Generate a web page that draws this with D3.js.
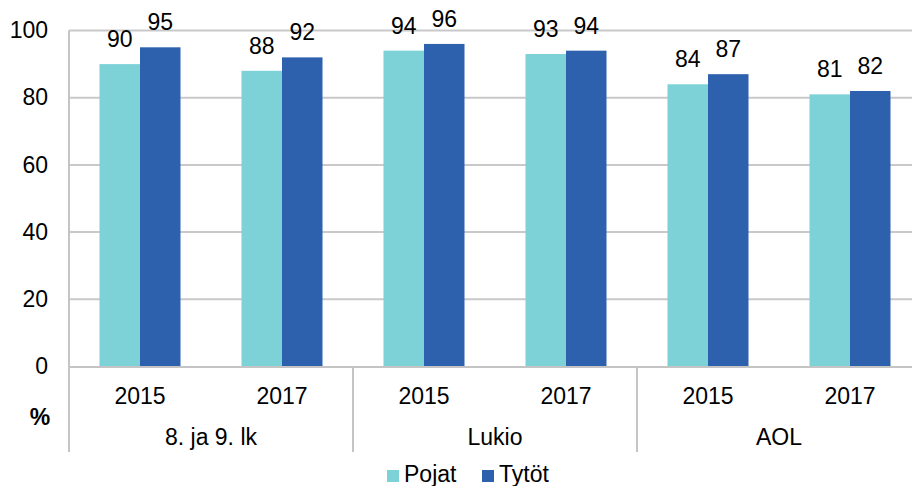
<!DOCTYPE html>
<html><head><meta charset="utf-8">
<script src="https://cdn.jsdelivr.net/npm/d3@7"></script>
<style>
body{margin:0;background:#fff;}
svg{display:block;font-family:"Liberation Sans",Arial,sans-serif;}
</style></head>
<body><svg id="c" width="912" height="486"></svg>
<script>
const groups = ["8. ja 9. lk", "Lukio", "AOL"];
const years = ["2015", "2017"];
const seriesNames = ["Pojat", "Tytöt"];
const pojat = [90, 88, 94, 93, 84, 81];
const tytot = [95, 92, 96, 94, 87, 82];
const yTicks = [0, 20, 40, 60, 80, 100];
const colors = ["#7dd2d8", "#2e61ad"];

const FS = 23;
const svg = d3.select("#c");
const L = 69, R = 921, T = 30.5, B = 366.5;
const cats = [];
groups.forEach(g => years.forEach(y => cats.push(g + "|" + y)));

const y = d3.scaleLinear().domain([0, 100]).range([B, T]);
const x = d3.scaleBand().domain(cats).range([L, R]).paddingInner(0).paddingOuter(0);
const xg = d3.scaleBand().domain(groups).range([L, R]);
const inner = d3.scaleBand().domain(seriesNames).range([0, 81]);
const barOffset = (x.bandwidth() - 81) / 2;

// gridlines
svg.append("g").selectAll("line").data(yTicks.filter(d => d > 0)).join("line")
  .attr("x1", L).attr("x2", R).attr("y1", d => y(d)).attr("y2", d => y(d))
  .attr("stroke", "#c9c9c9").attr("stroke-width", 2);

// y tick labels
const yAxis = d3.axisLeft(y).tickValues(yTicks).tickSize(0).tickPadding(21);
const ya = svg.append("g").attr("transform", `translate(${L},0)`).call(yAxis);
ya.select(".domain").remove();
ya.selectAll("text").attr("font-size", FS).attr("fill", "#000")
  .attr("font-family", "Liberation Sans, Arial, sans-serif").attr("dy", "0.31em");

// bars
const rows = cats.map((c, i) => ({c, vals: [pojat[i], tytot[i]]}));
const bg = svg.append("g").selectAll("g").data(rows).join("g")
  .attr("transform", d => `translate(${x(d.c) + barOffset},0)`);
bg.selectAll("rect").data(d => d.vals.map((v, j) => ({v, s: seriesNames[j], j}))).join("rect")
  .attr("x", d => inner(d.s)).attr("width", inner.bandwidth())
  .attr("y", d => y(d.v)).attr("height", d => B - y(d.v))
  .attr("fill", d => colors[d.j]);
bg.selectAll("text").data(d => d.vals.map((v, j) => ({v, s: seriesNames[j]}))).join("text")
  .attr("x", d => inner(d.s) + inner.bandwidth() / 2)
  .attr("y", d => y(d.v) - 17)
  .attr("text-anchor", "middle").attr("font-size", FS).attr("fill", "#000")
  .text(d => d.v);

// axes lines
svg.append("line").attr("x1", L).attr("x2", L).attr("y1", T).attr("y2", 452)
  .attr("stroke", "#c4c4c4").attr("stroke-width", 2);
svg.append("line").attr("x1", L).attr("x2", R).attr("y1", B + 0.5).attr("y2", B + 0.5)
  .attr("stroke", "#c4c4c4").attr("stroke-width", 2);
svg.append("g").selectAll("line").data(groups.slice(1)).join("line")
  .attr("x1", d => xg(d)).attr("x2", d => xg(d)).attr("y1", B).attr("y2", 452)
  .attr("stroke", "#c4c4c4").attr("stroke-width", 2);

// year labels
const xa = d3.axisBottom(x).tickSize(0).tickFormat(d => d.split("|")[1]);
const xaG = svg.append("g").attr("transform", `translate(0,${B})`).call(xa);
xaG.select(".domain").remove();
xaG.selectAll("text").attr("font-size", FS).attr("fill", "#000")
  .attr("font-family", "Liberation Sans, Arial, sans-serif")
  .attr("y", 0).attr("dy", 0).attr("transform", "translate(0,37.5)");

// group labels
svg.append("g").selectAll("text").data(groups).join("text")
  .attr("x", d => xg(d) + xg.bandwidth() / 2).attr("y", 445)
  .attr("text-anchor", "middle").attr("font-size", FS).attr("fill", "#000")
  .text(d => d);

// % label
svg.append("text").attr("x", 40).attr("y", 425).attr("text-anchor", "middle")
  .attr("font-size", FS).attr("font-weight", "bold").text("%");

// legend
const legX = [387, 482];
const lg = svg.append("g").selectAll("g").data(seriesNames).join("g")
  .attr("transform", (d, i) => `translate(${legX[i]},470)`);
lg.append("rect").attr("width", 12).attr("height", 12).attr("fill", (d, i) => colors[i]);
lg.append("text").attr("x", 17).attr("y", 12).attr("font-size", FS).text(d => d);
</script></body></html>
